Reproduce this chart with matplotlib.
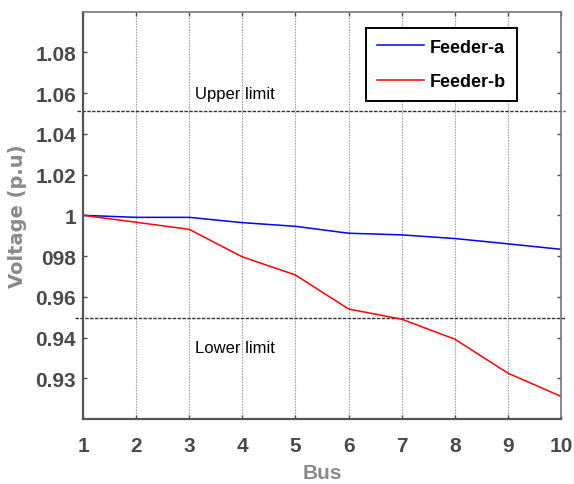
import numpy as np
import matplotlib
matplotlib.use("Agg")
import matplotlib.pyplot as plt

plt.rcParams['font.family'] = ['Liberation Sans', 'DejaVu Sans']

bus = [1, 2, 3, 4, 5, 6, 7, 8, 9, 10]
feeder_a = [1.0, 0.999, 0.999, 0.9964, 0.9946, 0.9912, 0.9904, 0.9886, 0.986, 0.9833]
feeder_b = [1.0, 0.9966, 0.9931, 0.9796, 0.9707, 0.954, 0.949, 0.9392, 0.9225, 0.9111]

ytick_pos = [1.08, 1.06, 1.04, 1.02, 1.0, 0.98, 0.96, 0.94, 0.92]
ytick_lab = ['1.08', '1.06', '1.04', '1.02', '1', '098', '0.96', '0.94', '0.93']
upper_limit = 1.051
lower_limit = 0.9498

fig = plt.figure(figsize=(5.74, 4.85), dpi=100)
ax = fig.add_axes([0.1446, 0.134, 0.8328, 0.840])

for xv in bus:
    ax.axvline(xv, color='#a0a0a0', lw=0.8, ls=(0, (1.5, 1)), zorder=0)

ax.plot(bus, feeder_a, color='blue', lw=1.1, label='Feeder-a')
ax.plot(bus, feeder_b, color='red', lw=1.1, label='Feeder-b')

ax.plot([0.89, 10.08], [upper_limit, upper_limit], color='#333333', lw=1.0,
        ls=(0, (2.5, 1)), clip_on=False, zorder=1)
ax.plot([0.85, 10.08], [lower_limit, lower_limit], color='#333333', lw=1.0,
        ls=(0, (2.5, 1)), clip_on=False, zorder=1)

ax.text(3.11, 1.0598, 'Upper limit', fontsize=12, va='center', ha='left', color='black')
ax.text(3.11, 0.935, 'Lower limit', fontsize=12, va='center', ha='left', color='black')

ax.set_xlim(1, 10)
ax.set_ylim(0.9, 1.1)
ax.set_xticks(bus)
ax.set_yticks(ytick_pos)
ax.set_yticklabels(ytick_lab)
ax.tick_params(direction='in', length=3, width=1, top=True, right=True,
               labelsize=15, labelcolor='#4a4a4a', color='#4a4a4a')
ax.tick_params(axis='y', pad=5)
ax.tick_params(axis='x', pad=12)
for lab in ax.get_xticklabels() + ax.get_yticklabels():
    lab.set_fontweight('bold')

for side in ['left', 'bottom']:
    ax.spines[side].set_color('#555555')
    ax.spines[side].set_linewidth(1.6)
for side in ['top', 'right']:
    ax.spines[side].set_color('#777777')
    ax.spines[side].set_linewidth(1.2)

ax.set_xlabel('Bus', fontsize=15, fontweight='bold', color='#8a8a8a', labelpad=6)
ax.set_ylabel('Voltage (p.u)', fontsize=14, fontweight='bold', color='#8a8a8a',
              family=['DejaVu Sans'], labelpad=6)

leg = ax.legend(loc='upper right', bbox_to_anchor=(0.908, 0.96), borderaxespad=0,
                fancybox=False, framealpha=1, edgecolor='black',
                prop={'weight': 'bold', 'size': 13},
                handlelength=2.6, handletextpad=0.35, borderpad=0.6,
                labelspacing=0.95)
leg.get_frame().set_linewidth(1.4)

fig.savefig('out.png', dpi=100)
